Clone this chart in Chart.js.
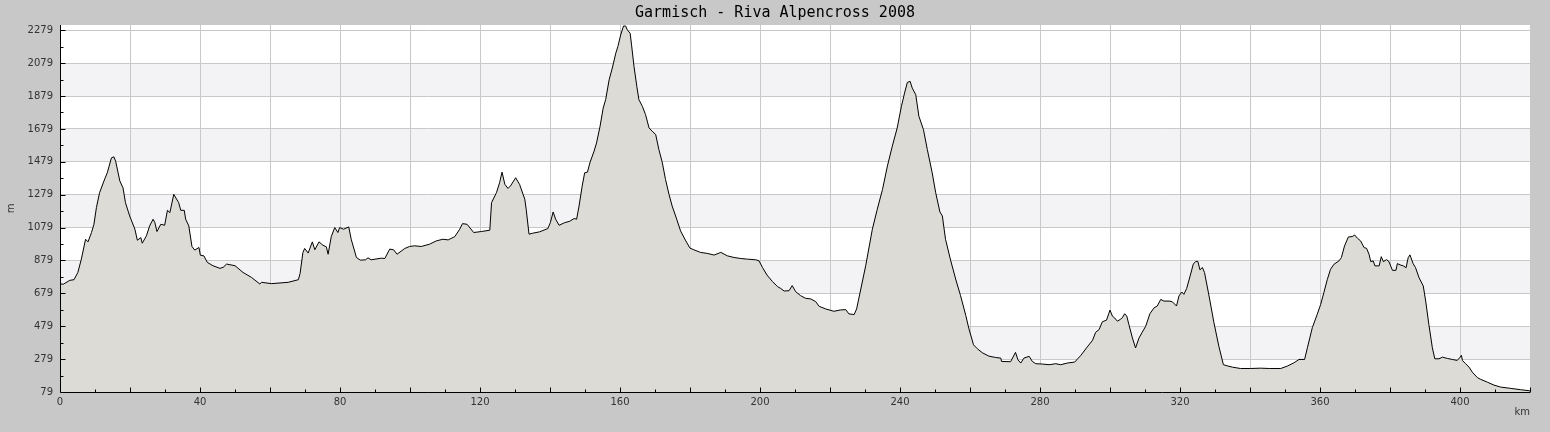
<!DOCTYPE html>
<html><head><meta charset="utf-8">
<script src="https://cdn.jsdelivr.net/npm/chart.js@4.4.1/dist/chart.umd.min.js"></script>
<style>html,body{margin:0;padding:0;background:#c8c8c8;overflow:hidden}#wrap{width:1550px;height:432px;position:relative}</style>
</head><body><div id="wrap"><canvas id="c"></canvas></div>
<script>
const chartTitle = 'Garmisch - Riva Alpencross 2008';
const xAxisLabel = 'km';
const yAxisLabel = 'm';

const distanceKm = [
0,0.9,2.8,4.0,5.1,6.1,7.3,8.0,9.0,9.7,10.4,11.3,12.8,13.5,14.7,15.4,15.9,17.1,18.0,18.7,19.9,
21.4,22.1,23.1,23.5,24.7,25.6,26.6,27.1,27.7,28.8,29.9,30.7,31.4,32.5,33.9,34.5,35.5,35.9,36.8,37.7,38.5,39.7,
40.1,41.1,42.1,43.7,45.7,46.6,47.6,50.0,52.3,54.7,57.1,57.6,60.4,65.2,68.1,68.6,69.4,69.9,
70.9,72.1,72.8,74.0,75.1,76.1,76.6,77.5,78.5,79.4,79.9,81.0,82.5,83.2,84.7,85.8,87.3,88.0,88.9,91.8,92.8,
94.2,95.3,96.3,98.5,99.9,101.3,103.2,105.6,107.5,109.4,110.9,112.8,114.2,115.0,116.3,118.2,120.4,122.8,
123.3,124.7,125.6,126.3,127.1,128.0,128.7,130.2,131.3,132.8,133.2,134.0,135.1,137.0,139.4,140.1,140.9,141.6,
142.6,144.2,145.6,146.9,147.6,148.3,149.2,149.9,150.7,151.4,152.6,153.3,154.3,155.2,155.9,156.9,157.8,158.8,
159.4,160.2,161.0,161.6,162.1,162.9,163.3,164.0,164.8,165.4,166.4,167.3,168.3,169.2,170.2,171.1,172.1,173.0,
174.0,174.9,176.2,177.3,178.8,180.0,181.1,183.0,184.9,186.9,188.8,190.7,192.6,194.5,196.4,198.8,199.7,200.7,
202.0,203.5,205.0,205.9,206.9,208.3,209.2,210.2,211.6,213.0,214.5,215.9,216.9,218.8,221.1,223.0,224.5,225.4,
226.9,227.6,228.8,230.2,232.1,233.5,235.0,236.4,237.8,239.2,240.4,241.3,242.1,242.9,243.5,244.5,245.4,246.7,
247.8,249.2,250.2,251.4,252.1,253.0,254.5,255.9,257.3,258.8,259.7,261.0,262.1,263.5,265.4,267.3,268.8,269.0,
271.6,273.0,273.7,274.5,275.4,276.9,277.8,278.8,280.7,282.6,284.5,285.9,287.8,289.9,291.6,293.5,295.0,295.9,
296.9,297.8,299.0,300.0,300.7,301.3,302.1,302.9,303.5,304.2,304.8,305.4,306.4,307.3,308.3,309.2,310.2,311.4,
312.6,313.5,314.5,315.4,316.9,317.8,319.0,319.7,320.5,321.1,321.9,322.9,323.8,324.5,325.1,325.7,326.4,327.0,
328.3,329.7,331.1,332.4,333.5,335.0,337.3,340.2,343.0,345.5,348.8,350.7,352.6,354.0,355.6,356.4,357.8,359.2,
360.2,361.1,362.1,363.0,364.0,365.4,366.1,367.0,368.1,369.2,369.9,370.7,371.6,372.6,373.3,374.0,374.5,375.2,
375.7,376.9,377.5,378.1,379.0,379.7,380.7,381.7,382.1,382.9,383.8,384.6,385.2,385.7,386.6,387.3,388.3,389.5,
390.2,391.1,392.1,392.8,394.0,395.0,396.4,397.8,399.2,399.9,400.4,400.7,401.6,402.6,403.5,405.0,405.9,407.8,
409.7,411.6,414.5,417.3,419.7,420
];
const elevationM = [
738,734,758,762,806,887,1008,992,1049,1099,1200,1291,1376,1412,1503,1509,1483,1362,1321,1231,1150,
1069,1002,1018,984,1029,1089,1130,1109,1055,1099,1093,1184,1170,1281,1231,1184,1184,1130,1089,964,942,958,
911,907,867,847,831,837,857,847,806,776,736,746,738,746,762,800,927,952,
924,992,944,992,972,962,917,1024,1079,1049,1079,1069,1083,1008,897,881,883,895,883,893,891,
948,944,917,952,964,968,964,978,998,1008,1004,1024,1069,1103,1099,1049,1055,1063,
1231,1291,1352,1416,1342,1317,1332,1382,1342,1251,1190,1039,1045,1053,1073,1109,1174,1130,
1093,1109,1117,1134,1130,1210,1332,1412,1416,1473,1544,1594,1695,1806,1857,1978,2049,2140,
2180,2251,2305,2305,2281,2261,2190,2059,1938,1857,1816,1766,1685,1665,1645,1554,1473,1372,
1281,1210,1130,1059,998,954,944,928,922,912,928,907,897,891,887,883,877,837,
790,752,720,709,693,695,726,689,665,649,645,629,600,584,570,578,580,554,
550,584,705,847,1069,1190,1311,1453,1574,1685,1816,1897,1962,1968,1927,1887,1756,1675,
1554,1412,1291,1174,1150,1008,877,766,665,544,463,366,342,318,297,289,285,265,
263,320,275,255,285,296,265,251,249,245,251,245,255,261,300,353,393,442,
459,506,516,577,540,530,510,520,530,555,540,489,408,347,408,442,479,555,
591,602,642,632,632,628,602,663,687,673,708,785,857,873,873,822,836,806,
663,500,357,245,238,230,222,222,224,222,222,237,257,277,277,348,470,551,
612,683,764,825,856,876,896,967,1022,1024,1034,1014,998,957,953,917,872,876,
846,846,902,872,884,872,819,819,860,852,846,835,896,913,860,835,774,724,
632,490,348,281,281,291,283,277,271,287,302,271,251,230,200,166,156,139,
121,109,101,93,87,85
];

const yTickValues = [79,179,279,379,479,579,679,779,879,979,1079,1179,1279,1379,1479,1579,1679,1779,1879,1979,2079,2179,2279];
const yLabelValues = [79,279,479,679,879,1079,1279,1479,1679,1879,2079,2279];
const xLabelStep = 40, xGridStep = 20, xMinorStep = 10;
const xMin = 0, xMax = 420, yMin = 79, yMax = 2311;

const points = distanceKm.map((d, i) => ({x: d, y: elevationM[i]}));
const TRANSPARENT = 'rgba(0,0,0,0)';

const bgPlugin = {
  id: 'bg',
  beforeDraw(chart) {
    const {ctx, chartArea: a, scales: {y}} = chart;
    ctx.save();
    ctx.fillStyle = '#c8c8c8';
    ctx.fillRect(0, 0, chart.width, chart.height);
    ctx.fillStyle = '#ffffff';
    ctx.fillRect(a.left, a.top, a.right - a.left, a.bottom - a.top);
    ctx.fillStyle = '#f3f2f5';
    for (let i = 1; i < yLabelValues.length - 1; i += 2) {
      const y1 = Math.round(y.getPixelForValue(yLabelValues[i]));
      const y2 = Math.round(y.getPixelForValue(yLabelValues[i + 1]));
      ctx.fillRect(a.left, y2, a.right - a.left, y1 - y2);
    }
    ctx.restore();
  }
};

const axisPlugin = {
  id: 'axisLines',
  afterDatasetsDraw(chart) {
    const {ctx, chartArea: a, scales: {x, y}} = chart;
    ctx.save();
    ctx.strokeStyle = '#000';
    ctx.lineWidth = 1;
    ctx.beginPath();
    const L = a.left + 0.5, B = Math.round(a.bottom) + 0.5;
    ctx.moveTo(L, a.top);
    ctx.lineTo(L, B);
    ctx.lineTo(a.right, B);
    y.ticks.forEach(t => {
      const py = Math.round(y.getPixelForValue(t.value)) + 0.5;
      const len = yLabelValues.includes(t.value) ? 5 : 3;
      ctx.moveTo(L, py); ctx.lineTo(L + len, py);
    });
    x.ticks.forEach(t => {
      if (t.value === xMin) return;
      const px = Math.round(x.getPixelForValue(t.value)) + 0.5;
      const len = (t.value % xGridStep === 0) ? 5 : 3;
      ctx.moveTo(px, B); ctx.lineTo(px, B - len);
    });
    ctx.stroke();
    ctx.restore();
  }
};

new Chart(document.getElementById('c'), {
  type: 'line',
  data: {
    datasets: [{
      data: points,
      borderColor: '#000',
      borderWidth: 1,
      backgroundColor: '#dcdbd6',
      fill: 'start',
      pointRadius: 0,
      tension: 0
    }]
  },
  options: {
    responsive: true,
    maintainAspectRatio: false,
    animation: false,
    devicePixelRatio: 1,
    layout: {padding: {left: 0, right: 0, top: 0, bottom: 0}},
    plugins: {
      legend: {display: false},
      tooltip: {enabled: false},
      title: {
        display: true,
        text: chartTitle,
        color: '#000',
        font: {family: 'DejaVu Sans Mono', size: 15, weight: 'normal'},
        padding: {top: 4, bottom: 3}
      }
    },
    scales: {
      x: {
        type: 'linear',
        min: xMin, max: xMax,
        afterFit(s) { s.height = 40; },
        border: {display: false},
        grid: {
          drawTicks: false,
          color: ctx => (ctx.tick && ctx.tick.value % xGridStep === 0 && ctx.tick.value > xMin && ctx.tick.value < xMax) ? '#c8c8c8' : TRANSPARENT,
          lineWidth: 1
        },
        ticks: {
          stepSize: xMinorStep,
          autoSkip: false,
          maxRotation: 0,
          padding: 4,
          color: '#333',
          font: {family: 'DejaVu Sans', size: 10},
          callback: v => (v % xLabelStep === 0 ? String(v) : '')
        },
        title: {
          display: true, text: xAxisLabel, align: 'end', color: '#333',
          font: {family: 'DejaVu Sans', size: 10},
          padding: {top: 0, bottom: 14}
        }
      },
      y: {
        type: 'linear',
        min: yMin, max: yMax,
        afterBuildTicks(s) { s.ticks = yTickValues.map(v => ({value: v})); },
        afterFit(s) { s.width = 60; },
        border: {display: false},
        grid: {
          drawTicks: false,
          color: ctx => (ctx.tick && yLabelValues.includes(ctx.tick.value) && ctx.tick.value !== yMin) ? '#c8c8c8' : TRANSPARENT,
          lineWidth: 1
        },
        ticks: {
          autoSkip: false,
          padding: 7,
          color: '#333',
          font: {family: 'DejaVu Sans', size: 10},
          callback: v => (yLabelValues.includes(v) ? String(v) : '')
        },
        title: {
          display: true, text: yAxisLabel, color: '#333',
          font: {family: 'DejaVu Sans', size: 10},
          padding: {top: 5, bottom: 0}
        }
      },
      yRight: {
        type: 'linear',
        position: 'right',
        display: true,
        afterFit(s) { s.width = 20; },
        border: {display: false},
        grid: {display: false, drawTicks: false},
        ticks: {display: false}
      }
    }
  },
  plugins: [bgPlugin, axisPlugin]
});
</script></body></html>
